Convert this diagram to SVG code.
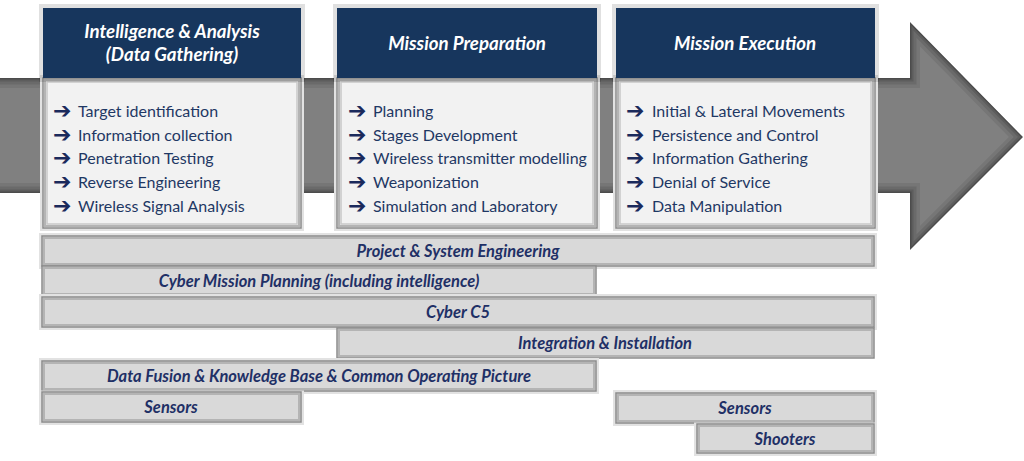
<svg xmlns="http://www.w3.org/2000/svg" width="1024" height="461" viewBox="0 0 1024 461">
<defs>
<clipPath id="arrowClip"><path id="arrowShape" d="M-20,78 H910 V22 L1023,137 L910,250 V193 H-20 Z"/></clipPath>
</defs>
<style>
.hdr{fill:#17365d}
.hhalo{fill:none;stroke:#000;stroke-opacity:0.12;stroke-width:4}
.body{fill:#f2f2f2;stroke:#8c8c8c;stroke-width:1.5}
.bar{fill:#d9d9d9;stroke:#8c8c8c;stroke-width:1.5}
.in1{fill:none;stroke:#b4b4b4;stroke-width:2}
.in2{fill:none;stroke:#c8c8c8;stroke-width:1.5}
.halo{fill:none;stroke:#e2e2e2;stroke-width:3}
.ht{font-family:Lato,"Open Sans",sans-serif;font-size:18.7px;font-weight:bold;font-style:italic;fill:#ffffff;text-anchor:middle}
.li{font-family:Lato,"Open Sans",sans-serif;font-size:16px;fill:#1f3864}
.ar{font-family:"DejaVu Sans",sans-serif;font-size:22px;font-weight:bold;fill:#1b2a5c}
.bt{font-family:Lato,"Open Sans",sans-serif;font-size:16.5px;font-weight:bold;font-style:italic;fill:#1f3066;text-anchor:middle}
.ae{fill:none;stroke:#1a1a1a}
</style>
<rect width="1024" height="461" fill="#ffffff"/>
<g id="flow-arrow" clip-path="url(#arrowClip)">
<path d="M-20,78 H910 V22 L1023,137 L910,250 V193 H-20 Z" fill="#808080"/>
<path class="ae" d="M-20,78 H910 V22 L1023,137 L910,250 V193 H-20 Z" stroke-width="20" stroke-opacity="0.1"/>
<path class="ae" d="M-20,78 H910 V22 L1023,137 L910,250 V193 H-20 Z" stroke-width="13" stroke-opacity="0.12"/>
<path class="ae" d="M-20,78 H910 V22 L1023,137 L910,250 V193 H-20 Z" stroke-width="7" stroke-opacity="0.16"/>
<path class="ae" d="M-20,78 H910 V22 L1023,137 L910,250 V193 H-20 Z" stroke-width="3" stroke-opacity="0.25"/>
</g>
<g id="connectors"></g>
<g id="phase-intelligence">
<rect class="halo" x="41.5" y="76.5" width="261" height="153"/>
<rect class="body" x="43" y="78" width="258" height="150"/>
<rect class="in1" x="45" y="80" width="254" height="146"/>
<rect class="in2" x="47" y="82" width="250" height="142"/>
<rect class="hhalo" x="41" y="6" width="262" height="74"/>
<rect class="hdr" x="43" y="8" width="258" height="70"/>
<text class="ht" x="172" y="38">Intelligence &amp; Analysis</text>
<text class="ht" x="172" y="61">(Data Gathering)</text>
<g class="ar"><text x="53" y="118">➔</text><text x="53" y="142">➔</text><text x="53" y="165">➔</text><text x="53" y="189">➔</text><text x="53" y="213">➔</text></g>
<text class="li" x="78" y="117">Target identification</text>
<text class="li" x="78" y="141">Information collection</text>
<text class="li" x="78" y="164">Penetration Testing</text>
<text class="li" x="78" y="188">Reverse Engineering</text>
<text class="li" x="78" y="212">Wireless Signal Analysis</text>
</g>
<g id="phase-preparation">
<rect class="halo" x="335.5" y="76.5" width="263" height="153"/>
<rect class="body" x="337" y="78" width="260" height="150"/>
<rect class="in1" x="339" y="80" width="256" height="146"/>
<rect class="in2" x="341" y="82" width="252" height="142"/>
<rect class="hhalo" x="335" y="6" width="264" height="74"/>
<rect class="hdr" x="337" y="8" width="260" height="70"/>
<text class="ht" x="467" y="50">Mission Preparation</text>
<g class="ar"><text x="348" y="118">➔</text><text x="348" y="142">➔</text><text x="348" y="165">➔</text><text x="348" y="189">➔</text><text x="348" y="213">➔</text></g>
<text class="li" x="373" y="117">Planning</text>
<text class="li" x="373" y="141">Stages Development</text>
<text class="li" x="373" y="164">Wireless transmitter modelling</text>
<text class="li" x="373" y="188">Weaponization</text>
<text class="li" x="373" y="212">Simulation and Laboratory</text>
</g>
<g id="phase-execution">
<rect class="halo" x="614.5" y="76.5" width="262" height="153"/>
<rect class="body" x="616" y="78" width="259" height="150"/>
<rect class="in1" x="618" y="80" width="255" height="146"/>
<rect class="in2" x="620" y="82" width="251" height="142"/>
<rect class="hhalo" x="614" y="6" width="263" height="74"/>
<rect class="hdr" x="616" y="8" width="259" height="70"/>
<text class="ht" x="745" y="50">Mission Execution</text>
<g class="ar"><text x="626" y="118">➔</text><text x="626" y="142">➔</text><text x="626" y="165">➔</text><text x="626" y="189">➔</text><text x="626" y="213">➔</text></g>
<text class="li" x="652" y="117">Initial &amp; Lateral Movements</text>
<text class="li" x="652" y="141">Persistence and Control</text>
<text class="li" x="652" y="164">Information Gathering</text>
<text class="li" x="652" y="188">Denial of Service</text>
<text class="li" x="652" y="212">Data Manipulation</text>
</g>
<g id="bar-project">
<rect class="halo" x="40.5" y="234.5" width="835" height="33"/>
<rect class="bar" x="42" y="236" width="832" height="30"/>
<rect class="in1" x="44" y="238" width="828" height="26"/>
<text class="bt" x="458" y="257">Project &amp; System Engineering</text>
</g>
<g id="bar-cmp">
<rect class="bar" x="42" y="266" width="554" height="30"/>
<rect class="in1" x="44" y="268" width="550" height="26"/>
<text class="bt" x="319" y="287">Cyber Mission Planning (including intelligence)</text>
</g>
<g id="bar-c5">
<rect class="halo" x="40.5" y="295.5" width="835" height="33"/>
<rect class="bar" x="42" y="297" width="832" height="30"/>
<rect class="in1" x="44" y="299" width="828" height="26"/>
<text class="bt" x="458" y="318">Cyber C5</text>
</g>
<g id="bar-integration">
<rect class="bar" x="337" y="328" width="537" height="30"/>
<rect class="in1" x="339" y="330" width="533" height="26"/>
<text class="bt" x="605" y="349">Integration &amp; Installation</text>
</g>
<g id="bar-datafusion">
<rect class="halo" x="40.5" y="359.5" width="557" height="33"/>
<rect class="bar" x="42" y="361" width="554" height="30"/>
<rect class="in1" x="44" y="363" width="550" height="26"/>
<text class="bt" x="319" y="382">Data Fusion &amp; Knowledge Base &amp; Common Operating Picture</text>
</g>
<g id="bar-sensors-left">
<rect class="halo" x="40.5" y="392" width="262" height="31.5"/>
<rect class="bar" x="42" y="392" width="259" height="30"/>
<rect class="in1" x="44" y="394" width="255" height="26"/>
<text class="bt" x="171" y="413">Sensors</text>
</g>
<g id="bar-sensors-right">
<rect class="halo" x="614.5" y="391.5" width="261" height="33"/>
<rect class="bar" x="616" y="393" width="258" height="30"/>
<rect class="in1" x="618" y="395" width="254" height="26"/>
<text class="bt" x="745" y="414">Sensors</text>
</g>
<g id="bar-shooters">
<rect class="halo" x="695.5" y="424" width="180" height="30.5"/>
<rect class="bar" x="697" y="424" width="177" height="29"/>
<rect class="in1" x="699" y="426" width="173" height="25"/>
<text class="bt" x="785" y="444.5">Shooters</text>
</g>
</svg>
